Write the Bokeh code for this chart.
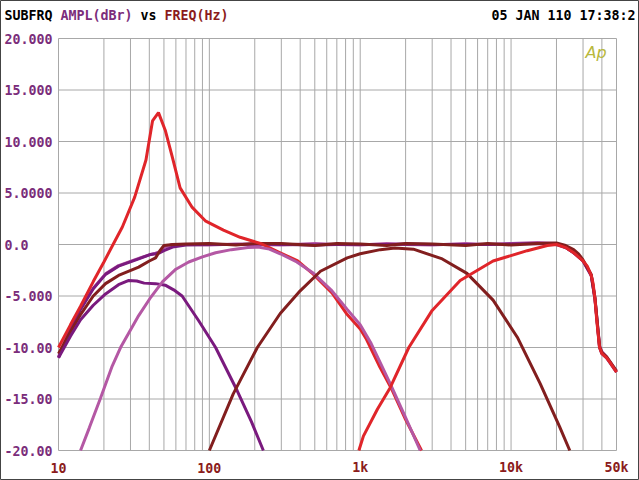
import math
from bokeh.plotting import figure
from bokeh.models import Range1d
from bokeh.core.properties import value
from bokeh.embed import file_html
from bokeh.resources import INLINE

# ---------------- data ----------------
x_tick_vals = [10, 100, 1000, 10000, 50000]
x_tick_labels = ["10", "100", "1k", "10k", "50k"]
y_tick_vals = [-20, -15, -10, -5, 0, 5, 10, 15, 20]
y_tick_labels = ["-20.00", "-15.00", "-10.00", "-5.000", "0.0",
                 "5.0000", "10.000", "15.000", "20.000"]
x_grid_vals = [20, 30, 40, 50, 60, 70, 80, 90, 100,
               200, 300, 400, 500, 600, 700, 800, 900, 1000,
               2000, 3000, 4000, 5000, 6000, 7000, 8000, 9000, 10000,
               20000, 30000, 40000]
y_grid_vals = [-15, -10, -5, 0, 5, 10, 15]

# red low-pass with resonance peak
f_red_peak = [10, 12, 14, 17, 20, 23, 26.5, 32, 38, 42, 46, 51, 57, 64, 77, 94, 124, 160,
              218, 295, 385, 490, 650, 820, 1000, 1100, 1350, 1600, 2000, 2550]
db_red_peak = [-10.0, -7.8, -6.0, -3.6, -1.7, 0.0, 1.7, 4.6, 8.2, 12.0, 12.8, 11.1, 8.4, 5.5,
               3.6, 2.3, 1.4, 0.7, 0.1, -0.8, -1.6, -2.9, -4.7, -6.8, -8.2, -9.2, -11.9,
               -13.9, -17.0, -20.0]

# red high-pass
f_red_hp = [980, 1050, 1300, 1580, 2100, 3000, 4600, 7600, 12800, 17400, 20000, 23000, 26000,
            30000, 32000, 34000, 35000, 36000, 37000, 38600, 40000, 43000, 46000, 50000]
db_red_hp = [-20.0, -18.6, -16.0, -13.9, -10.0, -6.4, -3.5, -1.6, -0.6, -0.1, 0.0, -0.3, -0.8,
             -1.6, -2.1, -3.0, -3.8, -5.3, -7.4, -10.0, -10.6, -11.0, -11.6, -12.4]

# brown band-pass
f_brown_bp = [100, 144, 208, 295, 400, 545, 820, 1000, 1360, 1700, 2250, 3500, 5100, 7600,
              11000, 15600, 21000, 24500]
db_brown_bp = [-20.0, -14.5, -10.0, -6.7, -4.5, -2.6, -1.3, -0.9, -0.5, -0.35, -0.45, -1.4,
               -2.8, -5.4, -9.0, -13.5, -17.7, -20.0]

# orchid band-pass
f_orchid_bp = [14, 16, 19, 22.7, 26, 30, 34, 41, 49, 60, 73, 90, 110, 140, 180, 210, 250, 295,
               380, 490, 640, 820, 1000, 1180, 1360, 1580, 2000, 2500]
db_orchid_bp = [-20.0, -17.8, -14.9, -11.8, -9.9, -8.3, -6.9, -5.1, -3.6, -2.4, -1.7, -1.2,
                -0.8, -0.5, -0.3, -0.25, -0.45, -0.9, -1.7, -2.8, -4.4, -6.3, -7.8, -9.6,
                -11.5, -13.5, -16.8, -20.0]

# purple low band
f_purple_bp = [10, 12, 14, 17, 20.5, 25, 29, 33, 37, 44, 51, 58, 66, 85, 110, 153, 190, 228]
db_purple_bp = [-11.0, -8.9, -7.3, -5.9, -4.8, -3.9, -3.5, -3.55, -3.75, -3.8, -3.95, -4.4,
                -5.0, -7.4, -10.0, -14.2, -17.2, -20.0]

# flat responses
f_flat = [10, 12, 14, 17, 20.5, 25, 34, 40, 44, 47, 50, 57, 70, 100, 150, 200, 300, 500, 700,
          1000, 1500, 2000, 3000, 5000, 7000, 10000, 15000, 20000, 23000, 26000, 28000, 30000,
          34000, 36000, 38600, 40000, 43000, 50000]
db_purple_flat = [-11.0, -8.2, -6.3, -4.3, -2.9, -2.1, -1.4, -1.0, -0.9, -0.8, -0.6, -0.25,
                  -0.05, 0.0, 0.0, 0.05, 0.0, -0.05, 0.0, 0.0, 0.0, 0.05, 0.0, 0.0, 0.0, 0.05,
                  0.1, 0.0, -0.3, -0.8, -1.2, -1.6, -3.0, -5.3, -10.0, -10.6, -11.0, -12.4]
db_orchid_flat = [-10.9, -8.1, -6.2, -4.25, -2.85, -2.05, -1.35, -1.0, -0.85, -0.7, -0.3,
                  0.0, 0.0, -0.05, 0.05, 0.0, -0.05, 0.1, 0.0, -0.05, 0.1, 0.0, -0.05, 0.1,
                  0.0, 0.1, 0.2, 0.1, -0.3, -0.8, -1.2, -1.6, -3.0, -5.3, -9.8, -10.4, -10.9,
                  -12.3]
db_brown_flat = [-10.6, -8.5, -6.8, -5.0, -3.8, -3.0, -2.2, -1.6, -1.3, -0.6, -0.1, 0.0,
                 0.05, 0.1, -0.05, 0.1, 0.1, -0.1, 0.1, 0.05, -0.1, 0.1, 0.05, -0.1, 0.1,
                 -0.05, 0.1, 0.15, -0.1, -0.5, -0.9, -1.5, -2.9, -5.2, -9.9, -10.5, -10.9,
                 -12.3]

header_parts = ["SUBFRQ", "AMPL(dBr)", "vs", "FREQ(Hz)"]
date_text = "05 JAN 110 17:38:2"
logo_text = "Ap"

# ---------------- styling / layout ----------------
RED = "#e0252a"
BROWN = "#821e1e"
PURPLE = "#7a1a7e"
ORCHID = "#b458a4"
GRID = "#a8a8a8"
LBL_PURPLE = "#7b2d7b"
LBL_RED = "#8b1c1c"
FONT = "DejaVu Sans Mono"
FSIZE = "13.3px"

W, H = 639, 480
PX_LEFT, PX_RIGHT, PX_TOP, PX_BOTTOM = 58, 616, 38, 450   # plot box in canvas pixels
x_lo, x_hi = x_tick_vals[0], x_tick_vals[-1]
y_lo, y_hi = y_tick_vals[0], y_tick_vals[-1]
px_per_dec = (PX_RIGHT - PX_LEFT) / (math.log10(x_hi) - math.log10(x_lo))
px_per_db = (PX_BOTTOM - PX_TOP) / (y_hi - y_lo)


def fx(px):
    """canvas x pixel -> frequency"""
    return x_lo * 10 ** ((px - PX_LEFT) / px_per_dec)


def fy(py):
    """canvas y pixel -> dB"""
    return y_hi - (py - PX_TOP) / px_per_db


p = figure(width=W, height=H, x_axis_type="log",
           x_range=Range1d(fx(0), fx(W)), y_range=Range1d(fy(H), fy(0)),
           x_axis_location=None, y_axis_location=None,
           output_backend="svg", toolbar_location=None,
           min_border=0, min_border_left=0, min_border_right=0,
           min_border_top=0, min_border_bottom=0)
p.background_fill_color = "white"
p.border_fill_color = "white"
p.outline_line_color = "#444444"
p.outline_line_width = 1
p.xgrid.visible = False
p.ygrid.visible = False

# grid
p.segment(x0=x_grid_vals, x1=x_grid_vals, y0=[y_lo] * len(x_grid_vals),
          y1=[y_hi] * len(x_grid_vals), line_color=GRID, line_width=1)
p.segment(x0=[x_lo] * len(y_grid_vals), x1=[x_hi] * len(y_grid_vals),
          y0=y_grid_vals, y1=y_grid_vals, line_color=GRID, line_width=1)
p.quad(left=[x_lo], right=[x_hi], bottom=[y_lo], top=[y_hi],
       fill_color=None, line_color=GRID, line_width=1)

# curves
LW = 3
p.line(f_flat, db_orchid_flat, line_color=ORCHID, line_width=LW)
p.line(f_flat, db_purple_flat, line_color=PURPLE, line_width=LW)
p.line(f_flat, db_brown_flat, line_color=BROWN, line_width=LW)
p.line(f_purple_bp, db_purple_bp, line_color=PURPLE, line_width=LW)
p.line(f_red_peak, db_red_peak, line_color=RED, line_width=LW)
p.line(f_orchid_bp, db_orchid_bp, line_color=ORCHID, line_width=LW)
p.line(f_brown_bp, db_brown_bp, line_color=BROWN, line_width=LW)
p.line(f_red_hp, db_red_hp, line_color=RED, line_width=LW)

txt_kw = dict(text_font=value(FONT), text_font_style="bold",
              text_font_size=value(FSIZE), text_baseline="middle")

# x tick labels
p.text(x=x_tick_vals, y=[fy(467)] * len(x_tick_vals), text=x_tick_labels,
       text_color=LBL_RED, text_align="center", **txt_kw)
# y tick labels
p.text(x=[fx(4)] * len(y_tick_vals), y=y_tick_vals, text=y_tick_labels,
       text_color=LBL_PURPLE, text_align="left", **txt_kw)

# header
CW = 8.0
hx = [4, 4 + 7 * CW, 4 + 17 * CW, 4 + 20 * CW]
hcol = ["black", LBL_PURPLE, "black", LBL_RED]
p.text(x=[fx(v) for v in hx], y=[fy(15)] * 4, text=header_parts, text_color=hcol,
       text_align="left", **txt_kw)
p.text(x=[fx(491)], y=[fy(15)], text=[date_text], text_color="black",
       text_align="left", **txt_kw)

# logo
p.text(x=[fx(585)], y=[fy(52)], text=[logo_text], text_color="#b8b83c",
       text_font=value("DejaVu Sans"), text_font_style="italic",
       text_font_size=value("16px"), text_align="left", text_baseline="middle")

open("out.html", "w").write(file_html(p, INLINE))
